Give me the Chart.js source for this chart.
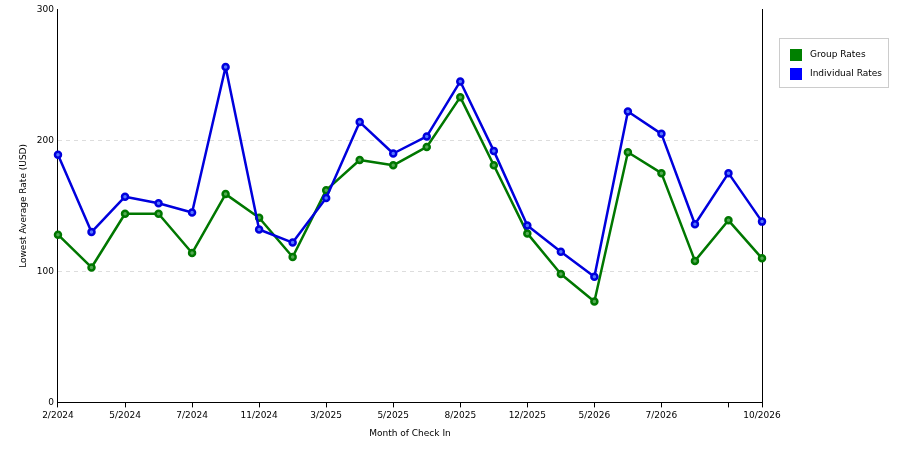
<!DOCTYPE html>
<html><head><meta charset="utf-8">
<script src="https://cdn.jsdelivr.net/npm/chart.js@4.4.0/dist/chart.umd.min.js"></script>
<style>
body{margin:0;background:#fff;font-family:"DejaVu Sans",sans-serif;}
#wrap{position:relative;width:900px;height:450px;}
#legend{position:absolute;left:779px;top:38px;width:108px;height:48px;border:1px solid #ccc;font-size:9px;}
.it{position:absolute;left:10px;height:12px;line-height:12px;}
.sw{display:inline-block;width:12px;height:12px;vertical-align:middle;margin-right:8px;}
</style></head><body>
<div id="wrap"><canvas id="c" width="900" height="450"></canvas>
<div id="legend">
<div class="it" style="top:9px"><span class="sw" style="background:#008000"></span>Group Rates</div>
<div class="it" style="top:28px"><span class="sw" style="background:#0000ff"></span>Individual Rates</div>
</div></div>
<script>
const months = ['2/2024','','5/2024','','7/2024','','11/2024','','3/2025','','5/2025','','8/2025','','12/2025','','5/2026','','7/2026','','','10/2026'];
const tickedIdx = [0,2,4,6,8,10,12,14,16,18,20,21];
const groupRates = [128,103,144,144,114,159,141,111,162,185,181,195,233,181,129,98,77,191,175,108,139,110];
const individualRates = [189,130,157,152,145,256,132,122,156,214,190,203,245,192,135,115,96,222,205,136,175,138];
const yTicks = [0,100,200,300];

new Chart(document.getElementById('c').getContext('2d'), {
  type: 'line',
  data: {
    labels: months,
    datasets: [
      {label:'Individual Rates', data: individualRates, borderColor:'#0000dd', pointBackgroundColor:'#5577ff', pointBorderColor:'#0000dd', borderWidth:2.5, pointRadius:3, borderJoinStyle:'round', tension:0},
      {label:'Group Rates', data: groupRates, borderColor:'#007700', pointBackgroundColor:'#55aa55', pointBorderColor:'#007700', borderWidth:2.5, pointRadius:3, borderJoinStyle:'round', tension:0}
    ]
  },
  options: {
    responsive:false, animation:false,
    layout:{padding:{left:14,right:130,top:1,bottom:7}},
    plugins:{legend:{display:false},tooltip:{enabled:false}},
    scales:{
      x:{
        offset:false,
        grid:{drawOnChartArea:false, drawTicks:true, tickLength:5, color: c => tickedIdx.includes(c.index) ? '#000' : 'rgba(0,0,0,0)'},
        border:{color:'#000'},
        ticks:{autoSkip:false, maxRotation:0, color:'#000', font:{family:'DejaVu Sans',size:9}},
        title:{display:true,text:'Month of Check In',color:'#000',font:{family:'DejaVu Sans',size:9}}
      },
      y:{
        min:0,max:300,
        afterBuildTicks: a => { a.ticks = yTicks.map(v => ({value:v})); },
        grid:{color: c => (c.tick && (c.tick.value===100||c.tick.value===200)) ? '#ddd' : 'rgba(0,0,0,0)', tickLength:5, drawTicks:false},
        border:{color:'#000', dash:[4,4]},
        ticks:{color:'#000', font:{family:'DejaVu Sans',size:9}, padding:4},
        title:{display:true,text:'Lowest Average Rate (USD)',color:'#000',font:{family:'DejaVu Sans',size:9}}
      },
      y2:{position:'right', min:0,max:300, grid:{display:false}, ticks:{display:false}, border:{color:'#000'}}
    }
  }
});
</script></body></html>
